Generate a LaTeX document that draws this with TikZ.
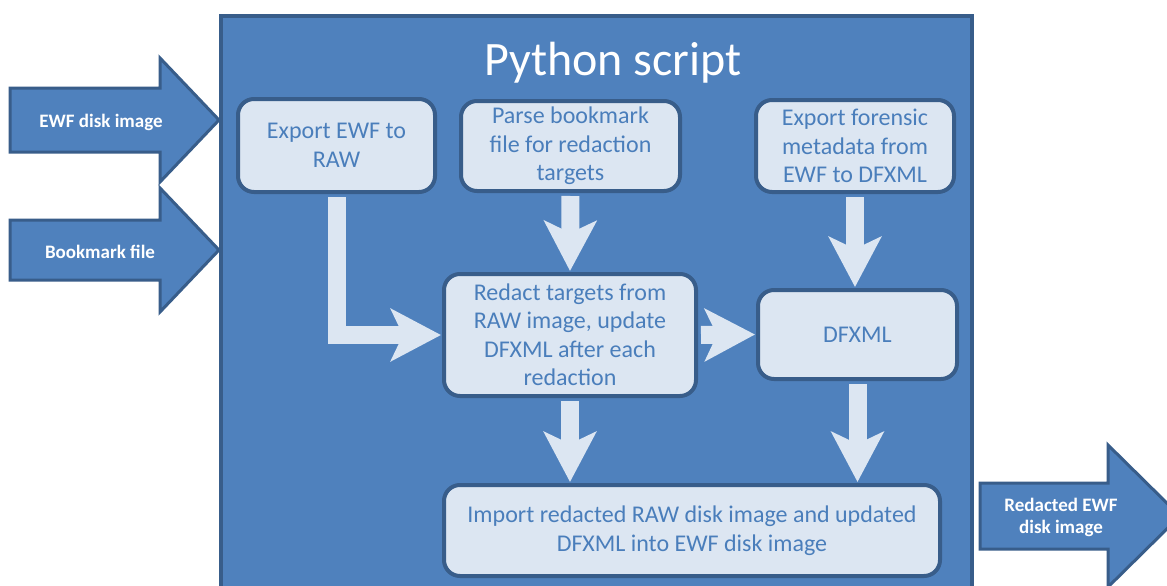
\documentclass[tikz,border=0pt]{standalone}
\usepackage{fontspec}
\setmainfont{Carlito}
\usetikzlibrary{arrows.meta}
\definecolor{mainblue}{HTML}{4F81BD}
\definecolor{darkblue}{HTML}{385D8A}
\definecolor{lightbox}{HTML}{DCE6F2}
\definecolor{boxtext}{HTML}{4A7EBB}
\tikzset{
  stepbox/.style={draw=darkblue, line width=4pt, fill=lightbox, rounded corners=16pt,
    text=boxtext, align=center, font=\fontsize{24}{28.5}\selectfont, inner sep=0pt},
  flow/.style={draw=lightbox, line width=18pt, shorten <=3pt, shorten >=1pt,
    -{Stealth[length=50pt, width=52pt, inset=12pt]}},
  blockarrow/.style={draw=darkblue, line width=3pt, fill=mainblue, line join=miter},
  blocklabel/.style={text=white, align=center, font=\bfseries\fontsize{19}{22}\selectfont}
}
\begin{document}
\begin{tikzpicture}[x=1pt,y=-1pt]
\useasboundingbox (0,0) rectangle (1167,586);
\clip (0,0) rectangle (1167,586);
\fill[white] (0,0) rectangle (1167,586);
% main frame
\draw[draw=darkblue, line width=4pt, fill=mainblue] (221,16) rectangle (972,640);
\node[text=white, font=\fontsize{48}{52}\selectfont] (title) at (613,63) {Python script};
% outer block arrows
\draw[blockarrow] (10,88) -- (160,88) -- (160,58) -- (219,120) -- (160,182) -- (160,152) -- (10,152) -- cycle;
\node[blocklabel] (ewf) at (101,122) {EWF disk image};
\draw[blockarrow] (10,220) -- (160,220) -- (160,188) -- (219,250) -- (160,312) -- (160,280) -- (10,280) -- cycle;
\node[blocklabel] (bm) at (100,252) {Bookmark file};
\draw[blockarrow] (980,483) -- (1108,483) -- (1108,445) -- (1180,516) -- (1108,587) -- (1108,549) -- (980,549) -- cycle;
\node[blocklabel] (red) at (1061,517) {Redacted EWF\\disk image};
% process boxes
\node[stepbox, minimum width=197pt, minimum height=93pt] (b1) at (336.5,145.5) {Export EWF to\\RAW};
\node[stepbox, minimum width=219pt, minimum height=90pt] (b2) at (570.5,146) {\raisebox{0pt}[0pt][0pt]{}Parse bookmark\\file for redaction\\targets};
\node[stepbox, minimum width=198pt, minimum height=92pt] (b3) at (855,146) {Export forensic\\metadata from\\EWF to DFXML};
\node[stepbox, minimum width=252pt, minimum height=122pt] (b4) at (570,335) {Redact targets from\\RAW image, update\\DFXML after each\\redaction};
\node[stepbox, minimum width=199pt, minimum height=89pt] (dfx) at (857.5,334.5) {DFXML};
\node[stepbox, minimum width=496pt, minimum height=91pt] (imp) at (692,530.5) {Import redacted RAW disk image and updated\\DFXML into EWF disk image};
% connectors
\draw[flow] (b1.south) |- (b4.west);
\draw[flow] (b2.south) -- (b4.north);
\draw[flow] (b3.south) -- (b3.south |- dfx.north);
\draw[flow] (b4.east) -- (dfx.west);
\draw[flow] (b4.south) -- (imp.north -| b4.south);
\draw[flow] (dfx.south) -- (imp.north -| dfx.south);
\end{tikzpicture}
\end{document}
